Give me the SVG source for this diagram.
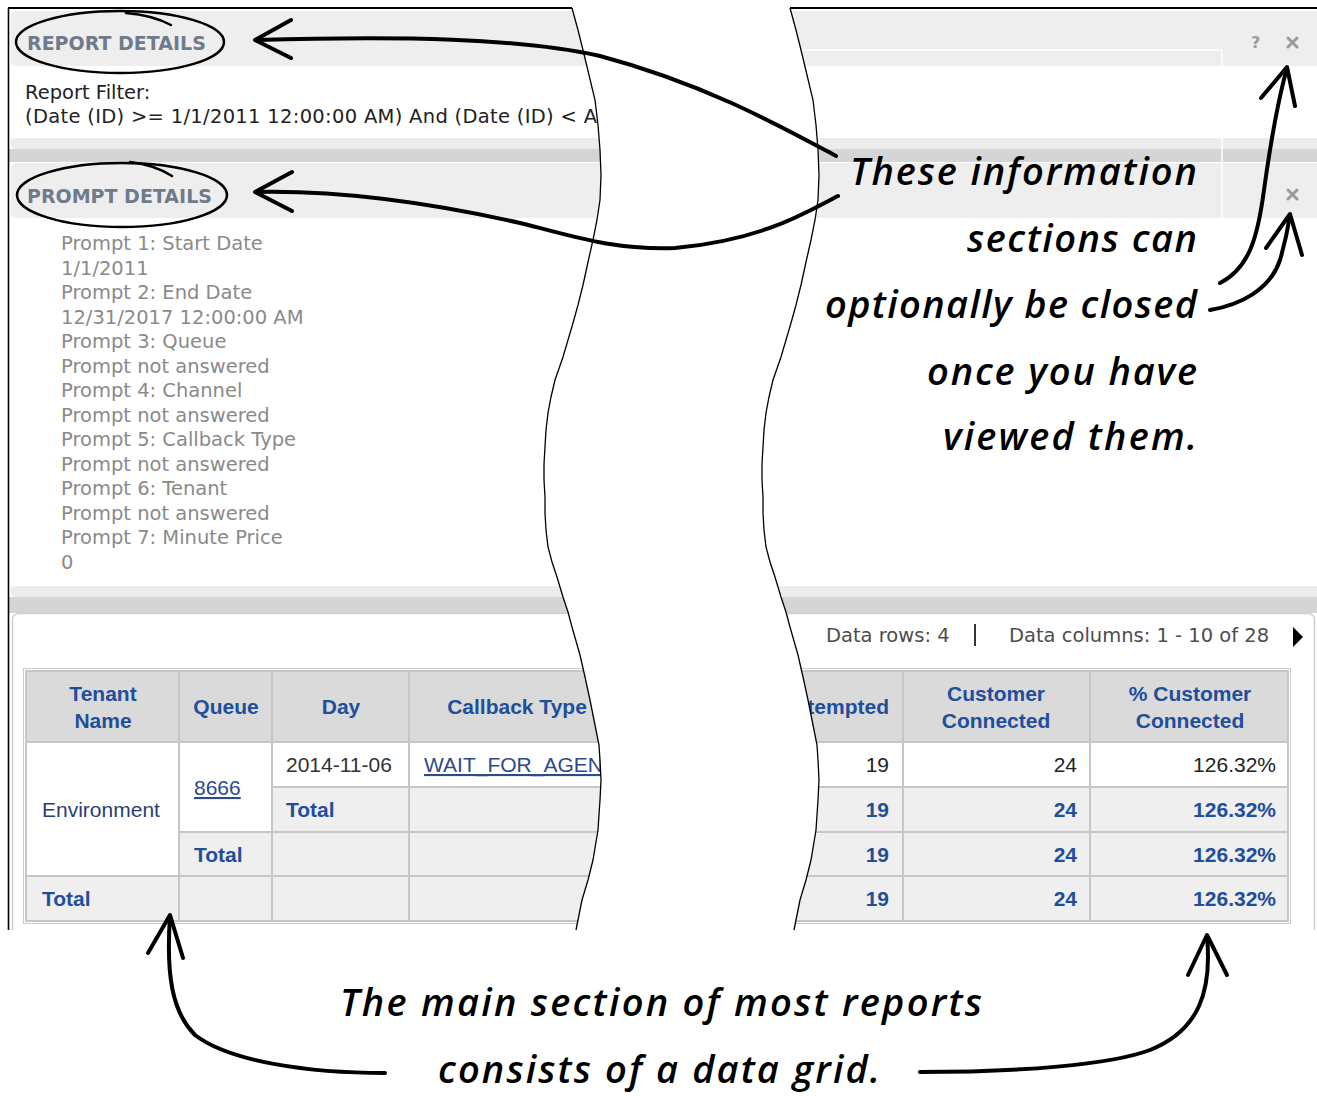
<svg xmlns="http://www.w3.org/2000/svg" width="1317" height="1096" viewBox="0 0 1317 1096">
<style>
.ui{font-family:"DejaVu Sans",Verdana,sans-serif;font-size:19.5px}
.hdr{font-family:"DejaVu Sans",Verdana,sans-serif;font-weight:bold;font-size:19px;fill:#6e7b8b}
.prompt{fill:#8a8a8a}
.dark{fill:#222}
.tb{font-family:"Liberation Sans",Arial,sans-serif;font-size:21px}
.th{font-weight:bold;fill:#1f4e9b}
.hand{font-family:"Open Sans","DejaVu Sans",sans-serif;font-style:italic;font-weight:600;font-size:38px;fill:#000}
.arrow{fill:none;stroke:#000;stroke-width:4;stroke-linecap:round;stroke-linejoin:round}
.loop{fill:none;stroke:#000;stroke-width:2.5;stroke-linecap:round}
.cut{fill:none;stroke:#000;stroke-width:1.3}
.grid{stroke:#c6c6c6;stroke-width:2;fill:none}
.xicon{stroke:#9a9a9a;stroke-width:3;stroke-linecap:round}
.wl{stroke:#ffffff;stroke-width:1.5}
</style>
<defs>
<path id="cutL" d="M572,8 L578,30 L583,50 L589,75 L595,100 L598,125 L600,150 L601,175 L600,200 L597,220 L593,240 L588,262 L583,285 L578,305 L573,323 L568,340 L563,357 L555,380 L551,397 L548,413 L546,430 L545,447 L544,464 L544,480 L545,497 L545,513 L546,530 L548,547 L552,562 L557,577 L563,597 L568,612 L572,627 L576,641 L580,655 L585,677 L590,700 L596,730 L599,745 L600,760 L601,780 L600,800 L598,830 L593,860 L588,880 L582,900 L576,930"/>
<clipPath id="shotClip">
<path d="M0,0 L572,0 L572,8 L578,30 L583,50 L589,75 L595,100 L598,125 L600,150 L601,175 L600,200 L597,220 L593,240 L588,262 L583,285 L578,305 L573,323 L568,340 L563,357 L555,380 L551,397 L548,413 L546,430 L545,447 L544,464 L544,480 L545,497 L545,513 L546,530 L548,547 L552,562 L557,577 L563,597 L568,612 L572,627 L576,641 L580,655 L585,677 L590,700 L596,730 L599,745 L600,760 L601,780 L600,800 L598,830 L593,860 L588,880 L582,900 L576,930 L0,930 Z"/>
<path d="M790,0 L790,8 L796,30 L801,50 L807,75 L813,100 L816,125 L818,150 L819,175 L818,200 L815,220 L811,240 L806,262 L801,285 L796,305 L791,323 L786,340 L781,357 L773,380 L769,397 L766,413 L764,430 L763,447 L762,464 L762,480 L763,497 L763,513 L764,530 L766,547 L770,562 L775,577 L781,597 L786,612 L790,627 L794,641 L798,655 L803,677 L808,700 L814,730 L817,745 L818,760 L819,780 L818,800 L816,830 L811,860 L806,880 L800,900 L794,930 L1317,930 L1317,0 Z"/>
</clipPath>
</defs>
<rect x="0" y="0" width="1317" height="1096" fill="#ffffff"/>

<g id="screenshot" clip-path="url(#shotClip)">
  <rect x="8" y="8" width="1320" height="930" fill="#ffffff"/>
  <g id="report-details">
    <rect x="11" y="11" width="1320" height="55" rx="5" fill="#eeeeee"/>
    <line class="wl" x1="790" y1="50" x2="1222" y2="50"/>
    <line class="wl" x1="1222" y1="50" x2="1222" y2="66"/>
    <text class="hdr" x="27" y="50">REPORT DETAILS</text>
    <text class="ui" x="1251" y="48" style="font-weight:bold;font-size:16px;fill:#9a9a9a">?</text>
    <line class="xicon" x1="1288" y1="38" x2="1297" y2="47"/>
    <line class="xicon" x1="1297" y1="38" x2="1288" y2="47"/>
    <text class="ui dark" x="25" y="99">Report Filter:</text>
    <text class="ui dark" x="25" y="123" textLength="572">(Date (ID) &gt;= 1/1/2011 12:00:00 AM) And (Date (ID) &lt; A</text>
    <rect x="11" y="138" width="1320" height="11" rx="4" fill="#ececec"/>
    <rect x="9" y="149" width="1320" height="13" fill="#d5d5d5"/>
  </g>
  <g id="prompt-details">
    <rect x="11" y="163" width="1320" height="55" rx="5" fill="#eeeeee"/>
    <line class="wl" x1="1222" y1="138" x2="1222" y2="218"/>
    <text class="hdr" x="27" y="203">PROMPT DETAILS</text>
    <line class="xicon" x1="1288" y1="190" x2="1297" y2="199"/>
    <line class="xicon" x1="1297" y1="190" x2="1288" y2="199"/>
    <g class="ui prompt">
      <text x="61" y="250">Prompt 1: Start Date</text>
      <text x="61" y="274.5">1/1/2011</text>
      <text x="61" y="299">Prompt 2: End Date</text>
      <text x="61" y="323.5">12/31/2017 12:00:00 AM</text>
      <text x="61" y="348">Prompt 3: Queue</text>
      <text x="61" y="372.5">Prompt not answered</text>
      <text x="61" y="397">Prompt 4: Channel</text>
      <text x="61" y="421.5">Prompt not answered</text>
      <text x="61" y="446">Prompt 5: Callback Type</text>
      <text x="61" y="470.5">Prompt not answered</text>
      <text x="61" y="495">Prompt 6: Tenant</text>
      <text x="61" y="519.5">Prompt not answered</text>
      <text x="61" y="544">Prompt 7: Minute Price</text>
      <text x="61" y="568.5">0</text>
    </g>
    <rect x="11" y="586" width="1320" height="11" rx="4" fill="#ececec"/>
    <rect x="9" y="597" width="1320" height="16" fill="#d5d5d5"/>
  </g>
  <g id="data-grid">
    <rect x="12.5" y="613.5" width="1302" height="340" rx="6" fill="#ffffff" stroke="#cfcfcf" stroke-width="1.5"/>
    <text class="ui" x="826" y="642" fill="#4d4d4d">Data rows: 4</text>
    <line x1="975" y1="624" x2="975" y2="646" stroke="#333" stroke-width="2"/>
    <text class="ui" x="1009" y="642" fill="#4d4d4d">Data columns: 1 - 10 of 28</text>
    <polygon points="1293,627 1303,637 1293,647" fill="#000"/>
    <rect x="23.5" y="668.5" width="1267" height="255" fill="none" stroke="#cccccc" stroke-width="1"/>
    <rect x="26" y="671" width="1262" height="71" fill="#dadada"/>
    <rect x="26" y="742" width="1262" height="179" fill="#efefef"/>
    <rect x="26" y="742" width="153" height="134" fill="#ffffff"/>
    <rect x="179" y="742" width="93" height="90" fill="#ffffff"/>
    <rect x="272" y="742" width="1016" height="45" fill="#ffffff"/>
    <rect class="grid" x="26" y="671" width="1262" height="250"/>
    <g class="grid">
      <line x1="26" y1="742" x2="1288" y2="742"/>
      <line x1="272" y1="787" x2="1288" y2="787"/>
      <line x1="179" y1="832" x2="1288" y2="832"/>
      <line x1="26" y1="876" x2="1288" y2="876"/>
      <line x1="179" y1="671" x2="179" y2="921"/>
      <line x1="272" y1="671" x2="272" y2="921"/>
      <line x1="409" y1="671" x2="409" y2="921"/>
      <line x1="903" y1="671" x2="903" y2="921"/>
      <line x1="1090" y1="671" x2="1090" y2="921"/>
    </g>
    <g class="tb th" text-anchor="middle">
      <text x="103" y="701">Tenant</text>
      <text x="103" y="728">Name</text>
      <text x="226" y="714">Queue</text>
      <text x="341" y="714">Day</text>
      <text x="517" y="714">Callback Type</text>
      <text x="889" y="714" text-anchor="end">tempted</text>
      <text x="996" y="701">Customer</text>
      <text x="996" y="728">Connected</text>
      <text x="1190" y="701">% Customer</text>
      <text x="1190" y="728">Connected</text>
    </g>
    <g class="tb">
      <text x="42" y="817" fill="#2a3f70">Environment</text>
      <text x="194" y="795" fill="#2c4a8c" text-decoration="underline">8666</text>
      <text x="286" y="772" fill="#333">2014-11-06</text>
      <text x="424" y="772" fill="#2c4a8c" text-decoration="underline">WAIT_FOR_AGEN</text>
      <text x="889" y="772" fill="#222" text-anchor="end">19</text>
      <text x="1077" y="772" fill="#222" text-anchor="end">24</text>
      <text x="1276" y="772" fill="#222" text-anchor="end">126.32%</text>
    </g>
    <g class="tb th">
      <text x="286" y="817">Total</text>
      <text x="194" y="862">Total</text>
      <text x="42" y="906">Total</text>
    </g>
    <g class="tb th" text-anchor="end">
      <text x="889" y="817">19</text>
      <text x="1077" y="817">24</text>
      <text x="1276" y="817">126.32%</text>
      <text x="889" y="862">19</text>
      <text x="1077" y="862">24</text>
      <text x="1276" y="862">126.32%</text>
      <text x="889" y="906">19</text>
      <text x="1077" y="906">24</text>
      <text x="1276" y="906">126.32%</text>
    </g>
  </g>
  <line x1="8" y1="8" x2="1317" y2="8" stroke="#000" stroke-width="2"/>
  <line x1="8.5" y1="8" x2="8.5" y2="930" stroke="#000" stroke-width="1.6"/>
</g>

<g id="cut-lines">
  <use href="#cutL" class="cut"/>
  <use href="#cutL" class="cut" transform="translate(218,0)"/>
</g>

<g id="highlight-loops">
  <ellipse class="loop" cx="120" cy="42" rx="104" ry="31"/>
  <path class="loop" d="M126,13 Q152,15 171,25"/>
  <ellipse class="loop" cx="122" cy="195" rx="105" ry="32"/>
  <path class="loop" d="M130,162 Q155,165 172,176"/>
</g>

<g id="note-sections" class="hand">
  <text x="850" y="185" textLength="347">These information</text>
  <text x="967" y="252" textLength="230">sections can</text>
  <text x="825" y="318" textLength="372">optionally be closed</text>
  <text x="927" y="385" textLength="270">once you have</text>
  <text x="943" y="450" textLength="254">viewed them.</text>
</g>

<g id="note-grid" class="hand">
  <text x="340" y="1016" textLength="642">The main section of most reports</text>
  <text x="438" y="1083" textLength="442">consists of a data grid.</text>
</g>

<g id="connectors" class="arrow">
  <path d="M836,156 C780,126 705,84 600,56 C520,38 400,36 256,40"/>
  <path d="M291,20 L255,40 L291,58"/>
  <path d="M838,196 C810,210 765,240 675,248 C610,250 570,235 520,223 C440,205 350,190 256,192"/>
  <path d="M292,172 L255,192 L292,211"/>
  <path d="M1220,283 C1250,268 1258,235 1264,190 C1271,140 1278,100 1287,68"/>
  <path d="M1261,98 L1287,67 L1295,106"/>
  <path d="M1210,310 C1240,305 1270,290 1280,260 C1286,240 1288,228 1290,215"/>
  <path d="M1266,248 L1290,214 L1302,255"/>
  <path d="M385,1073 C310,1073 230,1062 195,1035 C172,1012 166,975 170,916"/>
  <path d="M148,953 L170,915 L183,958"/>
  <path d="M920,1072 C1020,1072 1110,1065 1150,1050 C1200,1030 1212,990 1207,936"/>
  <path d="M1188,975 L1207,935 L1227,975"/>
</g>
</svg>
